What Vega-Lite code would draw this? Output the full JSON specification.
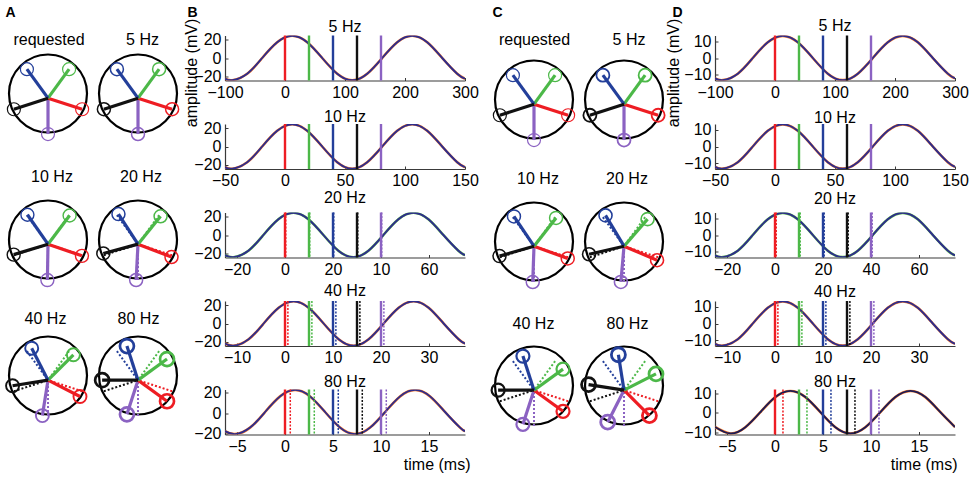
{
"$schema": "https://vega.github.io/schema/vega-lite/v6.json",
"padding": {"left": 0, "top": 4.5, "right": 0, "bottom": 0},
"config": {
 "view": {"stroke": null},
 "font": "Liberation Sans",
 "title": {"font": "Liberation Sans", "fontSize": 16, "fontWeight": "normal", "color": "#000", "baseline": "alphabetic", "anchor": "middle"},
 "axis": {"labelFont": "Liberation Sans", "labelFontSize": 16, "labelColor": "#000", "titleFont": "Liberation Sans", "titleFontSize": 16, "titleFontWeight": "normal", "titleColor": "#000", "domainColor": "#3a3a3a", "tickColor": "#3a3a3a", "tickSize": -3, "grid": false, "labelFlush": false, "labelOverlap": false, "domainWidth": 1.2, "tickCount": 10},
 "axisX": {"labelPadding": 6.5},
 "axisY": {"labelPadding": 7}
},
"datasets": {
 "ph": [
  {"p":"A0","k":"ring","x":0,"y":0},
  {"p":"A0","k":"s","col":"purple","x":0,"y":-1.04},{"p":"A0","k":"s","col":"red","x":0.875,"y":-0.404},{"p":"A0","k":"s","col":"green","x":0.541,"y":0.624},{"p":"A0","k":"s","col":"blue","x":-0.541,"y":0.624},{"p":"A0","k":"s","col":"black","x":-0.875,"y":-0.404},
  {"p":"A5","k":"ring","x":0,"y":0},
  {"p":"A5","k":"s","col":"purple","x":0,"y":-1.04},{"p":"A5","k":"s","col":"red","x":0.875,"y":-0.404},{"p":"A5","k":"s","col":"green","x":0.541,"y":0.624},{"p":"A5","k":"s","col":"blue","x":-0.541,"y":0.624},{"p":"A5","k":"s","col":"black","x":-0.875,"y":-0.404},
  {"p":"A10","k":"ring","x":0,"y":0},
  {"p":"A10","k":"d","col":"purple","x":0,"y":-1.04},{"p":"A10","k":"d","col":"red","x":0.875,"y":-0.404},{"p":"A10","k":"d","col":"green","x":0.541,"y":0.624},{"p":"A10","k":"d","col":"blue","x":-0.541,"y":0.624},{"p":"A10","k":"d","col":"black","x":-0.875,"y":-0.404},
  {"p":"A10","k":"s","col":"purple","x":-0.016,"y":-1.04},{"p":"A10","k":"s","col":"red","x":0.87,"y":-0.42},{"p":"A10","k":"s","col":"green","x":0.554,"y":0.615},{"p":"A10","k":"s","col":"blue","x":-0.528,"y":0.634},{"p":"A10","k":"s","col":"black","x":-0.88,"y":-0.389},
  {"p":"A20","k":"ring","x":0,"y":0},
  {"p":"A20","k":"d","col":"purple","x":0,"y":-1.04},{"p":"A20","k":"d","col":"red","x":0.875,"y":-0.404},{"p":"A20","k":"d","col":"green","x":0.541,"y":0.624},{"p":"A20","k":"d","col":"blue","x":-0.541,"y":0.624},{"p":"A20","k":"d","col":"black","x":-0.875,"y":-0.404},
  {"p":"A20","k":"s","col":"purple","x":-0.048,"y":-1.039},{"p":"A20","k":"s","col":"red","x":0.859,"y":-0.45},{"p":"A20","k":"s","col":"green","x":0.579,"y":0.595},{"p":"A20","k":"s","col":"blue","x":-0.501,"y":0.652},{"p":"A20","k":"s","col":"black","x":-0.889,"y":-0.358},
  {"p":"A40","k":"ring","x":0,"y":0},
  {"p":"A40","k":"d","col":"purple","x":0,"y":-1.04},{"p":"A40","k":"d","col":"red","x":0.875,"y":-0.404},{"p":"A40","k":"d","col":"green","x":0.541,"y":0.624},{"p":"A40","k":"d","col":"blue","x":-0.541,"y":0.624},{"p":"A40","k":"d","col":"black","x":-0.875,"y":-0.404},
  {"p":"A40","k":"s","col":"purple","x":-0.144,"y":-1.029},{"p":"A40","k":"s","col":"red","x":0.82,"y":-0.538},{"p":"A40","k":"s","col":"green","x":0.651,"y":0.531},{"p":"A40","k":"s","col":"blue","x":-0.418,"y":0.7},{"p":"A40","k":"s","col":"black","x":-0.909,"y":-0.264},
  {"p":"A80","k":"ring","x":0,"y":0},
  {"p":"A80","k":"d","col":"purple","x":0,"y":-1.04},{"p":"A80","k":"d","col":"red","x":0.875,"y":-0.404},{"p":"A80","k":"d","col":"green","x":0.541,"y":0.624},{"p":"A80","k":"d","col":"blue","x":-0.541,"y":0.624},{"p":"A80","k":"d","col":"black","x":-0.875,"y":-0.404},
  {"p":"A80","k":"s","col":"purple","x":-0.284,"y":-0.995},{"p":"A80","k":"s","col":"red","x":0.744,"y":-0.661},{"p":"A80","k":"s","col":"green","x":0.744,"y":0.421},{"p":"A80","k":"s","col":"blue","x":-0.284,"y":0.755},{"p":"A80","k":"s","col":"black","x":-0.92,"y":-0.12},
  {"p":"C0","k":"ring","x":0,"y":0},
  {"p":"C0","k":"s","col":"purple","x":0,"y":-1.04},{"p":"C0","k":"s","col":"red","x":0.875,"y":-0.404},{"p":"C0","k":"s","col":"green","x":0.541,"y":0.624},{"p":"C0","k":"s","col":"blue","x":-0.541,"y":0.624},{"p":"C0","k":"s","col":"black","x":-0.875,"y":-0.404},
  {"p":"C5","k":"ring","x":0,"y":0},
  {"p":"C5","k":"s","col":"purple","x":0,"y":-1.04},{"p":"C5","k":"s","col":"red","x":0.875,"y":-0.404},{"p":"C5","k":"s","col":"green","x":0.541,"y":0.624},{"p":"C5","k":"s","col":"blue","x":-0.541,"y":0.624},{"p":"C5","k":"s","col":"black","x":-0.875,"y":-0.404},
  {"p":"C10","k":"ring","x":0,"y":0},
  {"p":"C10","k":"d","col":"purple","x":0,"y":-1.04},{"p":"C10","k":"d","col":"red","x":0.875,"y":-0.404},{"p":"C10","k":"d","col":"green","x":0.541,"y":0.624},{"p":"C10","k":"d","col":"blue","x":-0.541,"y":0.624},{"p":"C10","k":"d","col":"black","x":-0.875,"y":-0.404},
  {"p":"C10","k":"s","col":"purple","x":-0.032,"y":-1.039},{"p":"C10","k":"s","col":"red","x":0.865,"y":-0.435},{"p":"C10","k":"s","col":"green","x":0.566,"y":0.605},{"p":"C10","k":"s","col":"blue","x":-0.514,"y":0.643},{"p":"C10","k":"s","col":"black","x":-0.884,"y":-0.374},
  {"p":"C20","k":"ring","x":0,"y":0},
  {"p":"C20","k":"d","col":"purple","x":0,"y":-1.04},{"p":"C20","k":"d","col":"red","x":0.875,"y":-0.404},{"p":"C20","k":"d","col":"green","x":0.541,"y":0.624},{"p":"C20","k":"d","col":"blue","x":-0.541,"y":0.624},{"p":"C20","k":"d","col":"black","x":-0.875,"y":-0.404},
  {"p":"C20","k":"s","col":"purple","x":-0.08,"y":-1.037},{"p":"C20","k":"s","col":"red","x":0.847,"y":-0.479},{"p":"C20","k":"s","col":"green","x":0.604,"y":0.574},{"p":"C20","k":"s","col":"blue","x":-0.474,"y":0.669},{"p":"C20","k":"s","col":"black","x":-0.896,"y":-0.327},
  {"p":"C40","k":"ring","x":0,"y":0},
  {"p":"C40","k":"d","col":"purple","x":0,"y":-1.04},{"p":"C40","k":"d","col":"red","x":0.875,"y":-0.404},{"p":"C40","k":"d","col":"green","x":0.541,"y":0.624},{"p":"C40","k":"d","col":"blue","x":-0.541,"y":0.624},{"p":"C40","k":"d","col":"black","x":-0.875,"y":-0.404},
  {"p":"C40","k":"s","col":"purple","x":-0.284,"y":-0.995},{"p":"C40","k":"s","col":"red","x":0.744,"y":-0.661},{"p":"C40","k":"s","col":"green","x":0.744,"y":0.421},{"p":"C40","k":"s","col":"blue","x":-0.284,"y":0.755},{"p":"C40","k":"s","col":"black","x":-0.92,"y":-0.12},
  {"p":"C80","k":"ring","x":0,"y":0},
  {"p":"C80","k":"d","col":"purple","x":0,"y":-1.04},{"p":"C80","k":"d","col":"red","x":0.875,"y":-0.404},{"p":"C80","k":"d","col":"green","x":0.541,"y":0.624},{"p":"C80","k":"d","col":"blue","x":-0.541,"y":0.624},{"p":"C80","k":"d","col":"black","x":-0.875,"y":-0.404},
  {"p":"C80","k":"s","col":"purple","x":-0.418,"y":-0.94},{"p":"C80","k":"s","col":"red","x":0.651,"y":-0.771},{"p":"C80","k":"s","col":"green","x":0.82,"y":0.298},{"p":"C80","k":"s","col":"blue","x":-0.144,"y":0.789},{"p":"C80","k":"s","col":"black","x":-0.909,"y":0.024}
 ],
 "curves": [
  {"c":"B5","t":-100,"v":-22.59},{"c":"B5","t":-88,"v":-24.3},{"c":"B5","t":-63,"v":-17.18},{"c":"B5","t":-38,"v":0},{"c":"B5","t":-13,"v":17.18},{"c":"B5","t":12,"v":24.3},{"c":"B5","t":37,"v":17.18},{"c":"B5","t":62,"v":0},{"c":"B5","t":87,"v":-17.18},{"c":"B5","t":112,"v":-24.3},{"c":"B5","t":137,"v":-17.18},{"c":"B5","t":162,"v":0},{"c":"B5","t":187,"v":17.18},{"c":"B5","t":212,"v":24.3},{"c":"B5","t":237,"v":17.18},{"c":"B5","t":262,"v":0},{"c":"B5","t":287,"v":-17.18},{"c":"B5","t":300,"v":-22.59},
  {"c":"B10","t":-50,"v":-22.59},{"c":"B10","t":-44,"v":-24.3},{"c":"B10","t":-31.5,"v":-17.18},{"c":"B10","t":-19,"v":0},{"c":"B10","t":-6.5,"v":17.18},{"c":"B10","t":6,"v":24.3},{"c":"B10","t":18.5,"v":17.18},{"c":"B10","t":31,"v":0},{"c":"B10","t":43.5,"v":-17.18},{"c":"B10","t":56,"v":-24.3},{"c":"B10","t":68.5,"v":-17.18},{"c":"B10","t":81,"v":0},{"c":"B10","t":93.5,"v":17.18},{"c":"B10","t":106,"v":24.3},{"c":"B10","t":118.5,"v":17.18},{"c":"B10","t":131,"v":0},{"c":"B10","t":143.5,"v":-17.18},{"c":"B10","t":150,"v":-22.59},
  {"c":"B20","t":-25,"v":-21.99},{"c":"B20","t":-21.5,"v":-24.3},{"c":"B20","t":-15.25,"v":-17.18},{"c":"B20","t":-9,"v":0},{"c":"B20","t":-2.75,"v":17.18},{"c":"B20","t":3.5,"v":24.3},{"c":"B20","t":9.75,"v":17.18},{"c":"B20","t":16,"v":0},{"c":"B20","t":22.25,"v":-17.18},{"c":"B20","t":28.5,"v":-24.3},{"c":"B20","t":34.75,"v":-17.18},{"c":"B20","t":41,"v":0},{"c":"B20","t":47.25,"v":17.18},{"c":"B20","t":53.5,"v":24.3},{"c":"B20","t":59.75,"v":17.18},{"c":"B20","t":66,"v":0},{"c":"B20","t":72.25,"v":-17.18},{"c":"B20","t":75,"v":-21.99},
  {"c":"B40","t":-12.5,"v":-21.86},{"c":"B40","t":-10.7,"v":-24.3},{"c":"B40","t":-7.575,"v":-17.18},{"c":"B40","t":-4.45,"v":0},{"c":"B40","t":-1.325,"v":17.18},{"c":"B40","t":1.8,"v":24.3},{"c":"B40","t":4.925,"v":17.18},{"c":"B40","t":8.05,"v":0},{"c":"B40","t":11.175,"v":-17.18},{"c":"B40","t":14.3,"v":-24.3},{"c":"B40","t":17.425,"v":-17.18},{"c":"B40","t":20.55,"v":0},{"c":"B40","t":23.675,"v":17.18},{"c":"B40","t":26.8,"v":24.3},{"c":"B40","t":29.925,"v":17.18},{"c":"B40","t":33.05,"v":0},{"c":"B40","t":36.175,"v":-17.18},{"c":"B40","t":37.5,"v":-21.86},
  {"c":"B80","t":-6.25,"v":-17.66},{"c":"B80","t":-5.2,"v":-20.6},{"c":"B80","t":-3.6375,"v":-14.27},{"c":"B80","t":-2.075,"v":1},{"c":"B80","t":-0.5125,"v":16.27},{"c":"B80","t":1.05,"v":22.6},{"c":"B80","t":2.6125,"v":16.27},{"c":"B80","t":4.175,"v":1},{"c":"B80","t":5.7375,"v":-14.27},{"c":"B80","t":7.3,"v":-20.6},{"c":"B80","t":8.8625,"v":-14.27},{"c":"B80","t":10.425,"v":1},{"c":"B80","t":11.9875,"v":16.27},{"c":"B80","t":13.55,"v":22.6},{"c":"B80","t":15.1125,"v":16.27},{"c":"B80","t":16.675,"v":1},{"c":"B80","t":18.2375,"v":-14.27},{"c":"B80","t":18.75,"v":-17.66},
  {"c":"D5","t":-100,"v":-12.11},{"c":"D5","t":-87,"v":-13.2},{"c":"D5","t":-62,"v":-9.33},{"c":"D5","t":-37,"v":0},{"c":"D5","t":-12,"v":9.33},{"c":"D5","t":13,"v":13.2},{"c":"D5","t":38,"v":9.33},{"c":"D5","t":63,"v":0},{"c":"D5","t":88,"v":-9.33},{"c":"D5","t":113,"v":-13.2},{"c":"D5","t":138,"v":-9.33},{"c":"D5","t":163,"v":0},{"c":"D5","t":188,"v":9.33},{"c":"D5","t":213,"v":13.2},{"c":"D5","t":238,"v":9.33},{"c":"D5","t":263,"v":0},{"c":"D5","t":288,"v":-9.33},{"c":"D5","t":300,"v":-12.11},
  {"c":"D10","t":-50,"v":-12.11},{"c":"D10","t":-43.5,"v":-13.2},{"c":"D10","t":-31,"v":-9.33},{"c":"D10","t":-18.5,"v":0},{"c":"D10","t":-6,"v":9.33},{"c":"D10","t":6.5,"v":13.2},{"c":"D10","t":19,"v":9.33},{"c":"D10","t":31.5,"v":0},{"c":"D10","t":44,"v":-9.33},{"c":"D10","t":56.5,"v":-13.2},{"c":"D10","t":69,"v":-9.33},{"c":"D10","t":81.5,"v":0},{"c":"D10","t":94,"v":9.33},{"c":"D10","t":106.5,"v":13.2},{"c":"D10","t":119,"v":9.33},{"c":"D10","t":131.5,"v":0},{"c":"D10","t":144,"v":-9.33},{"c":"D10","t":150,"v":-12.11},
  {"c":"D20","t":-25,"v":-12.11},{"c":"D20","t":-21.75,"v":-13.2},{"c":"D20","t":-15.5,"v":-9.33},{"c":"D20","t":-9.25,"v":0},{"c":"D20","t":-3,"v":9.33},{"c":"D20","t":3.25,"v":13.2},{"c":"D20","t":9.5,"v":9.33},{"c":"D20","t":15.75,"v":0},{"c":"D20","t":22,"v":-9.33},{"c":"D20","t":28.25,"v":-13.2},{"c":"D20","t":34.5,"v":-9.33},{"c":"D20","t":40.75,"v":0},{"c":"D20","t":47,"v":9.33},{"c":"D20","t":53.25,"v":13.2},{"c":"D20","t":59.5,"v":9.33},{"c":"D20","t":65.75,"v":0},{"c":"D20","t":72,"v":-9.33},{"c":"D20","t":75,"v":-12.11},
  {"c":"D40","t":-12.5,"v":-12.11},{"c":"D40","t":-10.875,"v":-13.2},{"c":"D40","t":-7.75,"v":-9.33},{"c":"D40","t":-4.625,"v":0},{"c":"D40","t":-1.5,"v":9.33},{"c":"D40","t":1.625,"v":13.2},{"c":"D40","t":4.75,"v":9.33},{"c":"D40","t":7.875,"v":0},{"c":"D40","t":11,"v":-9.33},{"c":"D40","t":14.125,"v":-13.2},{"c":"D40","t":17.25,"v":-9.33},{"c":"D40","t":20.375,"v":0},{"c":"D40","t":23.5,"v":9.33},{"c":"D40","t":26.625,"v":13.2},{"c":"D40","t":29.75,"v":9.33},{"c":"D40","t":32.875,"v":0},{"c":"D40","t":36,"v":-9.33},{"c":"D40","t":37.5,"v":-12.11},
  {"c":"D80","t":-6.25,"v":-7.16},{"c":"D80","t":-4.65,"v":-10.5},{"c":"D80","t":-3.0875,"v":-7.31},{"c":"D80","t":-1.525,"v":0.4},{"c":"D80","t":0.0375,"v":8.11},{"c":"D80","t":1.6,"v":11.3},{"c":"D80","t":3.1625,"v":8.11},{"c":"D80","t":4.725,"v":0.4},{"c":"D80","t":6.2875,"v":-7.31},{"c":"D80","t":7.85,"v":-10.5},{"c":"D80","t":9.4125,"v":-7.31},{"c":"D80","t":10.975,"v":0.4},{"c":"D80","t":12.5375,"v":8.11},{"c":"D80","t":14.1,"v":11.3},{"c":"D80","t":15.6625,"v":8.11},{"c":"D80","t":17.225,"v":0.4},{"c":"D80","t":18.75,"v":-7.16}
 ],
 "vl": [
  {"c":"B5","k":"s","col":"red","t":0},{"c":"B5","k":"s","col":"green","t":40},{"c":"B5","k":"s","col":"blue","t":80},{"c":"B5","k":"s","col":"black","t":120},{"c":"B5","k":"s","col":"purple","t":160},
  {"c":"B10","k":"s","col":"red","t":0},{"c":"B10","k":"s","col":"green","t":20},{"c":"B10","k":"s","col":"blue","t":40},{"c":"B10","k":"s","col":"black","t":60},{"c":"B10","k":"s","col":"purple","t":80},
  {"c":"B20","k":"s","col":"red","t":0},{"c":"B20","k":"s","col":"green","t":10},{"c":"B20","k":"s","col":"blue","t":20},{"c":"B20","k":"s","col":"black","t":30},{"c":"B20","k":"s","col":"purple","t":40},
  {"c":"B20","k":"d","col":"red","t":0.3},{"c":"B20","k":"d","col":"green","t":10.3},{"c":"B20","k":"d","col":"blue","t":20.3},{"c":"B20","k":"d","col":"black","t":30.3},{"c":"B20","k":"d","col":"purple","t":40.3},
  {"c":"B40","k":"s","col":"red","t":0},{"c":"B40","k":"s","col":"green","t":5},{"c":"B40","k":"s","col":"blue","t":10},{"c":"B40","k":"s","col":"black","t":15},{"c":"B40","k":"s","col":"purple","t":20},
  {"c":"B40","k":"d","col":"red","t":0.6},{"c":"B40","k":"d","col":"green","t":5.6},{"c":"B40","k":"d","col":"blue","t":10.6},{"c":"B40","k":"d","col":"black","t":15.6},{"c":"B40","k":"d","col":"purple","t":20.6},
  {"c":"B80","k":"s","col":"red","t":0},{"c":"B80","k":"s","col":"green","t":2.5},{"c":"B80","k":"s","col":"blue","t":5},{"c":"B80","k":"s","col":"black","t":7.5},{"c":"B80","k":"s","col":"purple","t":10},
  {"c":"B80","k":"d","col":"red","t":0.55},{"c":"B80","k":"d","col":"green","t":3.05},{"c":"B80","k":"d","col":"blue","t":5.55},{"c":"B80","k":"d","col":"black","t":8.05},{"c":"B80","k":"d","col":"purple","t":10.55},
  {"c":"D5","k":"s","col":"red","t":0},{"c":"D5","k":"s","col":"green","t":40},{"c":"D5","k":"s","col":"blue","t":80},{"c":"D5","k":"s","col":"black","t":120},{"c":"D5","k":"s","col":"purple","t":160},
  {"c":"D10","k":"s","col":"red","t":0},{"c":"D10","k":"s","col":"green","t":20},{"c":"D10","k":"s","col":"blue","t":40},{"c":"D10","k":"s","col":"black","t":60},{"c":"D10","k":"s","col":"purple","t":80},
  {"c":"D20","k":"s","col":"red","t":0},{"c":"D20","k":"s","col":"green","t":10},{"c":"D20","k":"s","col":"blue","t":20},{"c":"D20","k":"s","col":"black","t":30},{"c":"D20","k":"s","col":"purple","t":40},
  {"c":"D20","k":"d","col":"red","t":0.5},{"c":"D20","k":"d","col":"green","t":10.5},{"c":"D20","k":"d","col":"blue","t":20.5},{"c":"D20","k":"d","col":"black","t":30.5},{"c":"D20","k":"d","col":"purple","t":40.5},
  {"c":"D40","k":"s","col":"red","t":0},{"c":"D40","k":"s","col":"green","t":5},{"c":"D40","k":"s","col":"blue","t":10},{"c":"D40","k":"s","col":"black","t":15},{"c":"D40","k":"s","col":"purple","t":20},
  {"c":"D40","k":"d","col":"red","t":0.6},{"c":"D40","k":"d","col":"green","t":5.6},{"c":"D40","k":"d","col":"blue","t":10.6},{"c":"D40","k":"d","col":"black","t":15.6},{"c":"D40","k":"d","col":"purple","t":20.6},
  {"c":"D80","k":"s","col":"red","t":0},{"c":"D80","k":"s","col":"green","t":2.5},{"c":"D80","k":"s","col":"blue","t":5},{"c":"D80","k":"s","col":"black","t":7.5},{"c":"D80","k":"s","col":"purple","t":10},
  {"c":"D80","k":"d","col":"red","t":0.83},{"c":"D80","k":"d","col":"green","t":3.33},{"c":"D80","k":"d","col":"blue","t":5.83},{"c":"D80","k":"d","col":"black","t":8.33},{"c":"D80","k":"d","col":"purple","t":10.83}
 ]
},
"columns": 6,
"align": "none",
"bounds": "flush",
"spacing": {"row": 43.5, "column": 0},
"concat": [
 {"width":90,"height":45,"data":{"name":"ph"},"transform":[{"filter":"datum.p == 'A0'"}],"encoding":{"x":{"field":"x","type":"quantitative","scale":{"domain":[-1.231,1.077],"nice":false,"zero":false},"axis":{"orient":"top","domain":false,"ticks":false,"labels":false,"title":"requested","titleX":48.5,"titleY":9,"titleAlign":"center","titleBaseline":"alphabetic","titleAngle":0}},"y":{"field":"y","type":"quantitative","scale":{"domain":[0.333,1.487],"nice":false,"zero":false},"axis":{"orient":"left","domain":false,"ticks":false,"labels":false,"title":"A","titleX":5,"titleY":-19.5,"titleAngle":0,"titleAlign":"left","titleBaseline":"alphabetic","titleFontWeight":"bold","titleFontSize":14}},"color":{"field":"col","type":"nominal","scale":{"domain":["red","green","blue","black","purple"],"range":["#ee1d23","#4cb848","#233f9a","#111111","#8b62c2"]},"legend":null}},"layer":[{"transform":[{"filter":"datum.k == 'ring'"}],"mark":{"type":"point","shape":"circle","size":6084,"filled":false,"strokeWidth":2.2,"opacity":1},"encoding":{"color":{"value":"#000"}}},{"transform":[{"filter":"datum.k == 'd'"}],"mark":{"type":"rule","strokeWidth":2,"strokeDash":[2,2]},"encoding":{"x2":{"datum":0},"y2":{"datum":-0.12}}},{"transform":[{"filter":"datum.k == 's'"}],"mark":{"type":"rule","strokeWidth":3.2},"encoding":{"x2":{"datum":0},"y2":{"datum":-0.12}}},{"transform":[{"filter":"datum.k == 's'"}],"mark":{"type":"point","shape":"circle","size":169,"filled":false,"strokeWidth":1.2,"opacity":1}}]},
 {"width":135,"height":45,"data":{"name":"ph"},"transform":[{"filter":"datum.p == 'A5'"}],"encoding":{"x":{"field":"x","type":"quantitative","scale":{"domain":[-1.231,2.231],"nice":false,"zero":false},"axis":{"orient":"top","domain":false,"ticks":false,"labels":false,"title":"5 Hz","titleX":52,"titleY":9,"titleAlign":"center","titleBaseline":"alphabetic","titleAngle":0}},"y":{"field":"y","type":"quantitative","scale":{"domain":[0.333,1.487],"nice":false,"zero":false},"axis":{"orient":"left","domain":false,"ticks":false,"labels":false,"title":"B","titleX":97,"titleY":-19.5,"titleAngle":0,"titleAlign":"left","titleBaseline":"alphabetic","titleFontWeight":"bold","titleFontSize":14}},"color":{"field":"col","type":"nominal","scale":{"domain":["red","green","blue","black","purple"],"range":["#ee1d23","#4cb848","#233f9a","#111111","#8b62c2"]},"legend":null}},"layer":[{"transform":[{"filter":"datum.k == 'ring'"}],"mark":{"type":"point","shape":"circle","size":6084,"filled":false,"strokeWidth":2.2,"opacity":1},"encoding":{"color":{"value":"#000"}}},{"transform":[{"filter":"datum.k == 'd'"}],"mark":{"type":"rule","strokeWidth":2,"strokeDash":[2,2]},"encoding":{"x2":{"datum":0},"y2":{"datum":-0.12}}},{"transform":[{"filter":"datum.k == 's'"}],"mark":{"type":"rule","strokeWidth":3.2},"encoding":{"x2":{"datum":0},"y2":{"datum":-0.12}}},{"transform":[{"filter":"datum.k == 's'"}],"mark":{"type":"point","shape":"circle","size":169,"filled":false,"strokeWidth":1.5,"opacity":1}}]},
 {"width":240,"height":45,"title":{"text":"5 Hz","offset":-16.8},
  "encoding":{"x":{"field":"t","type":"quantitative","scale":{"domain":[-100,300],"nice":false,"zero":false},"axis":{"values":[-100,0,100,200,300],"tickCount":10,"title":null,"labelOverlap":false}}},
  "layer":[
   {"data":{"name":"curves"},"transform":[{"filter":"datum.c == 'B5'"}],"mark":{"type":"line","interpolate":"natural","color":"#f4782a","strokeWidth":2.6,"clip":true},"encoding":{"y":{"field":"v","type":"quantitative","scale":{"domain":[-24.6,24.6],"nice":false,"zero":false},"axis":{"values":[-20,0,20],"tickCount":10,"labelOverlap":false,"title":"amplitude (mV)","titleAngle":270,"titleX":-34,"titleY":37,"titleAlign":"center","titleBaseline":"middle"}}}},
   {"data":{"name":"curves"},"transform":[{"filter":"datum.c == 'B5'"}],"mark":{"type":"line","interpolate":"natural","color":"#2e2d8c","strokeWidth":1.9,"clip":true},"encoding":{"y":{"field":"v","type":"quantitative"}}},
   {"data":{"name":"vl"},"transform":[{"filter":"datum.c == 'B5' && datum.k == 's'"}],"mark":{"type":"rule","strokeWidth":2.4},"encoding":{"color":{"field":"col","type":"nominal","scale":{"domain":["red","green","blue","black","purple"],"range":["#ee1d23","#4cb848","#233f9a","#111111","#8b62c2"]},"legend":null}}}
  ]},
 {"width":111,"height":45,"data":{"name":"ph"},"transform":[{"filter":"datum.p == 'C0'"}],"encoding":{"x":{"field":"x","type":"quantitative","scale":{"domain":[-1.769,1.077],"nice":false,"zero":false},"axis":{"orient":"top","domain":false,"ticks":false,"labels":false,"title":"requested","titleX":69,"titleY":9,"titleAlign":"center","titleBaseline":"alphabetic","titleAngle":0}},"y":{"field":"y","type":"quantitative","scale":{"domain":[0.487,1.641],"nice":false,"zero":false},"axis":{"orient":"left","domain":false,"ticks":false,"labels":false,"title":"C","titleX":27,"titleY":-19.5,"titleAngle":0,"titleAlign":"left","titleBaseline":"alphabetic","titleFontWeight":"bold","titleFontSize":14}},"color":{"field":"col","type":"nominal","scale":{"domain":["red","green","blue","black","purple"],"range":["#ee1d23","#4cb848","#233f9a","#111111","#8b62c2"]},"legend":null}},"layer":[{"transform":[{"filter":"datum.k == 'ring'"}],"mark":{"type":"point","shape":"circle","size":6084,"filled":false,"strokeWidth":2.2,"opacity":1},"encoding":{"color":{"value":"#000"}}},{"transform":[{"filter":"datum.k == 'd'"}],"mark":{"type":"rule","strokeWidth":2,"strokeDash":[2,2]},"encoding":{"x2":{"datum":0},"y2":{"datum":-0.12}}},{"transform":[{"filter":"datum.k == 's'"}],"mark":{"type":"rule","strokeWidth":3.2},"encoding":{"x2":{"datum":0},"y2":{"datum":-0.12}}},{"transform":[{"filter":"datum.k == 's'"}],"mark":{"type":"point","shape":"circle","size":169,"filled":false,"strokeWidth":1.2,"opacity":1}}]},
 {"width":139,"height":45,"data":{"name":"ph"},"transform":[{"filter":"datum.p == 'C5'"}],"encoding":{"x":{"field":"x","type":"quantitative","scale":{"domain":[-1.231,2.333],"nice":false,"zero":false},"axis":{"orient":"top","domain":false,"ticks":false,"labels":false,"title":"5 Hz","titleX":52.5,"titleY":9,"titleAlign":"center","titleBaseline":"alphabetic","titleAngle":0}},"y":{"field":"y","type":"quantitative","scale":{"domain":[0.487,1.641],"nice":false,"zero":false},"axis":{"orient":"left","domain":false,"ticks":false,"labels":false,"title":"D","titleX":96,"titleY":-19.5,"titleAngle":0,"titleAlign":"left","titleBaseline":"alphabetic","titleFontWeight":"bold","titleFontSize":14}},"color":{"field":"col","type":"nominal","scale":{"domain":["red","green","blue","black","purple"],"range":["#ee1d23","#4cb848","#233f9a","#111111","#8b62c2"]},"legend":null}},"layer":[{"transform":[{"filter":"datum.k == 'ring'"}],"mark":{"type":"point","shape":"circle","size":6084,"filled":false,"strokeWidth":2.2,"opacity":1},"encoding":{"color":{"value":"#000"}}},{"transform":[{"filter":"datum.k == 'd'"}],"mark":{"type":"rule","strokeWidth":2,"strokeDash":[2,2]},"encoding":{"x2":{"datum":0},"y2":{"datum":-0.12}}},{"transform":[{"filter":"datum.k == 's'"}],"mark":{"type":"rule","strokeWidth":3.2},"encoding":{"x2":{"datum":0},"y2":{"datum":-0.12}}},{"transform":[{"filter":"datum.k == 's'"}],"mark":{"type":"point","shape":"circle","size":169,"filled":false,"strokeWidth":1.8,"opacity":1}}]},
 {"width":240,"height":45,"title":{"text":"5 Hz","offset":-15.3},
  "encoding":{"x":{"field":"t","type":"quantitative","scale":{"domain":[-100,300],"nice":false,"zero":false},"axis":{"values":[-100,0,100,200,300],"tickCount":10,"title":null,"labelOverlap":false}}},
  "layer":[
   {"data":{"name":"curves"},"transform":[{"filter":"datum.c == 'D5'"}],"mark":{"type":"line","interpolate":"natural","color":"#f4782a","strokeWidth":2.6,"clip":true},"encoding":{"y":{"field":"v","type":"quantitative","scale":{"domain":[-13.4,13.4],"nice":false,"zero":false},"axis":{"values":[-10,0,10],"tickCount":10,"labelOverlap":false,"title":"amplitude (mV)","titleAngle":270,"titleX":-42,"titleY":37,"titleAlign":"center","titleBaseline":"middle"}}}},
   {"data":{"name":"curves"},"transform":[{"filter":"datum.c == 'D5'"}],"mark":{"type":"line","interpolate":"natural","color":"#2e2d8c","strokeWidth":1.9,"clip":true},"encoding":{"y":{"field":"v","type":"quantitative"}}},
   {"data":{"name":"vl"},"transform":[{"filter":"datum.c == 'D5' && datum.k == 's'"}],"mark":{"type":"rule","strokeWidth":2.4},"encoding":{"color":{"field":"col","type":"nominal","scale":{"domain":["red","green","blue","black","purple"],"range":["#ee1d23","#4cb848","#233f9a","#111111","#8b62c2"]},"legend":null}}}
  ]},

 {"width":90,"height":1,"data":{"values":[]},"mark":"point"},
 {"width":135,"height":1,"data":{"values":[]},"mark":"point"},
 {"width":240,"height":45,"title":{"text":"10 Hz","offset":-5},
  "encoding":{"x":{"field":"t","type":"quantitative","scale":{"domain":[-50,150],"nice":false,"zero":false},"axis":{"values":[-50,0,50,100,150],"tickCount":10,"title":null,"labelOverlap":false}}},
  "layer":[
   {"data":{"name":"curves"},"transform":[{"filter":"datum.c == 'B10'"}],"mark":{"type":"line","interpolate":"natural","color":"#f4782a","strokeWidth":2.6,"clip":true},"encoding":{"y":{"field":"v","type":"quantitative","scale":{"domain":[-24.6,24.6],"nice":false,"zero":false},"axis":{"values":[-20,0,20],"tickCount":10,"labelOverlap":false,"title":null}}}},
   {"data":{"name":"curves"},"transform":[{"filter":"datum.c == 'B10'"}],"mark":{"type":"line","interpolate":"natural","color":"#2e2d8c","strokeWidth":1.9,"clip":true},"encoding":{"y":{"field":"v","type":"quantitative"}}},
   {"data":{"name":"vl"},"transform":[{"filter":"datum.c == 'B10' && datum.k == 's'"}],"mark":{"type":"rule","strokeWidth":2.4},"encoding":{"color":{"field":"col","type":"nominal","scale":{"domain":["red","green","blue","black","purple"],"range":["#ee1d23","#4cb848","#233f9a","#111111","#8b62c2"]},"legend":null}}}
  ]},
 {"width":111,"height":1,"data":{"values":[]},"mark":"point"},
 {"width":139,"height":1,"data":{"values":[]},"mark":"point"},
 {"width":240,"height":45,"title":{"text":"10 Hz","offset":-4.3},
  "encoding":{"x":{"field":"t","type":"quantitative","scale":{"domain":[-50,150],"nice":false,"zero":false},"axis":{"values":[-50,0,50,100,150],"tickCount":10,"title":null,"labelOverlap":false}}},
  "layer":[
   {"data":{"name":"curves"},"transform":[{"filter":"datum.c == 'D10'"}],"mark":{"type":"line","interpolate":"natural","color":"#f4782a","strokeWidth":2.6,"clip":true},"encoding":{"y":{"field":"v","type":"quantitative","scale":{"domain":[-13.4,13.4],"nice":false,"zero":false},"axis":{"values":[-10,0,10],"tickCount":10,"labelOverlap":false,"title":null}}}},
   {"data":{"name":"curves"},"transform":[{"filter":"datum.c == 'D10'"}],"mark":{"type":"line","interpolate":"natural","color":"#2e2d8c","strokeWidth":1.9,"clip":true},"encoding":{"y":{"field":"v","type":"quantitative"}}},
   {"data":{"name":"vl"},"transform":[{"filter":"datum.c == 'D10' && datum.k == 's'"}],"mark":{"type":"rule","strokeWidth":2.4},"encoding":{"color":{"field":"col","type":"nominal","scale":{"domain":["red","green","blue","black","purple"],"range":["#ee1d23","#4cb848","#233f9a","#111111","#8b62c2"]},"legend":null}}}
  ]},

 {"width":90,"height":45,"data":{"name":"ph"},"transform":[{"filter":"datum.p == 'A10'"}],"encoding":{"x":{"field":"x","type":"quantitative","scale":{"domain":[-1.231,1.077],"nice":false,"zero":false},"axis":{"orient":"top","domain":false,"ticks":false,"labels":false,"title":"10 Hz","titleX":51.5,"titleY":-31,"titleAlign":"center","titleBaseline":"alphabetic","titleAngle":0}},"y":{"field":"y","type":"quantitative","scale":{"domain":[-0.462,0.692],"nice":false,"zero":false},"axis":null},"color":{"field":"col","type":"nominal","scale":{"domain":["red","green","blue","black","purple"],"range":["#ee1d23","#4cb848","#233f9a","#111111","#8b62c2"]},"legend":null}},"layer":[{"transform":[{"filter":"datum.k == 'ring'"}],"mark":{"type":"point","shape":"circle","size":6084,"filled":false,"strokeWidth":2.2,"opacity":1},"encoding":{"color":{"value":"#000"}}},{"transform":[{"filter":"datum.k == 'd'"}],"mark":{"type":"rule","strokeWidth":2,"strokeDash":[2,2]},"encoding":{"x2":{"datum":0},"y2":{"datum":-0.12}}},{"transform":[{"filter":"datum.k == 's'"}],"mark":{"type":"rule","strokeWidth":3.2},"encoding":{"x2":{"datum":0},"y2":{"datum":-0.12}}},{"transform":[{"filter":"datum.k == 's'"}],"mark":{"type":"point","shape":"circle","size":169,"filled":false,"strokeWidth":1.4,"opacity":1}}]},
 {"width":135,"height":45,"data":{"name":"ph"},"transform":[{"filter":"datum.p == 'A20'"}],"encoding":{"x":{"field":"x","type":"quantitative","scale":{"domain":[-1.231,2.231],"nice":false,"zero":false},"axis":{"orient":"top","domain":false,"ticks":false,"labels":false,"title":"20 Hz","titleX":50.5,"titleY":-31,"titleAlign":"center","titleBaseline":"alphabetic","titleAngle":0}},"y":{"field":"y","type":"quantitative","scale":{"domain":[-0.462,0.692],"nice":false,"zero":false},"axis":null},"color":{"field":"col","type":"nominal","scale":{"domain":["red","green","blue","black","purple"],"range":["#ee1d23","#4cb848","#233f9a","#111111","#8b62c2"]},"legend":null}},"layer":[{"transform":[{"filter":"datum.k == 'ring'"}],"mark":{"type":"point","shape":"circle","size":6084,"filled":false,"strokeWidth":2.2,"opacity":1},"encoding":{"color":{"value":"#000"}}},{"transform":[{"filter":"datum.k == 'd'"}],"mark":{"type":"rule","strokeWidth":2,"strokeDash":[2,2]},"encoding":{"x2":{"datum":0},"y2":{"datum":-0.12}}},{"transform":[{"filter":"datum.k == 's'"}],"mark":{"type":"rule","strokeWidth":3.2},"encoding":{"x2":{"datum":0},"y2":{"datum":-0.12}}},{"transform":[{"filter":"datum.k == 's'"}],"mark":{"type":"point","shape":"circle","size":169,"filled":false,"strokeWidth":1.5,"opacity":1}}]},
 {"width":240,"height":45,"title":{"text":"20 Hz","offset":2.5},
  "encoding":{"x":{"field":"t","type":"quantitative","scale":{"domain":[-25,75],"nice":false,"zero":false},"axis":{"values":[-20,0,20,40,60],"tickCount":10,"title":null,"labelOverlap":false,"labelExpr":"datum.value == 40 ? '10' : datum.label"}}},
  "layer":[
   {"data":{"name":"curves"},"transform":[{"filter":"datum.c == 'B20'"}],"mark":{"type":"line","interpolate":"natural","color":"#5cb84a","strokeWidth":2.6,"clip":true},"encoding":{"y":{"field":"v","type":"quantitative","scale":{"domain":[-24.6,24.6],"nice":false,"zero":false},"axis":{"values":[-20,0,20],"tickCount":10,"labelOverlap":false,"title":null}}}},
   {"data":{"name":"curves"},"transform":[{"filter":"datum.c == 'B20'"}],"mark":{"type":"line","interpolate":"natural","color":"#2e2d8c","strokeWidth":1.9,"clip":true},"encoding":{"y":{"field":"v","type":"quantitative"}}},
   {"data":{"name":"vl"},"transform":[{"filter":"datum.c == 'B20' && datum.k == 'd'"}],"mark":{"type":"rule","strokeWidth":1.5,"strokeDash":[2,1.5]},"encoding":{"color":{"field":"col","type":"nominal","scale":{"domain":["red","green","blue","black","purple"],"range":["#ee1d23","#4cb848","#233f9a","#111111","#8b62c2"]},"legend":null}}},
   {"data":{"name":"vl"},"transform":[{"filter":"datum.c == 'B20' && datum.k == 's'"}],"mark":{"type":"rule","strokeWidth":2.4},"encoding":{"color":{"field":"col","type":"nominal","scale":{"domain":["red","green","blue","black","purple"],"range":["#ee1d23","#4cb848","#233f9a","#111111","#8b62c2"]},"legend":null}}}
  ]},
 {"width":111,"height":45,"data":{"name":"ph"},"transform":[{"filter":"datum.p == 'C10'"}],"encoding":{"x":{"field":"x","type":"quantitative","scale":{"domain":[-1.769,1.077],"nice":false,"zero":false},"axis":{"orient":"top","domain":false,"ticks":false,"labels":false,"title":"10 Hz","titleX":72.5,"titleY":-29,"titleAlign":"center","titleBaseline":"alphabetic","titleAngle":0}},"y":{"field":"y","type":"quantitative","scale":{"domain":[-0.41,0.744],"nice":false,"zero":false},"axis":null},"color":{"field":"col","type":"nominal","scale":{"domain":["red","green","blue","black","purple"],"range":["#ee1d23","#4cb848","#233f9a","#111111","#8b62c2"]},"legend":null}},"layer":[{"transform":[{"filter":"datum.k == 'ring'"}],"mark":{"type":"point","shape":"circle","size":6084,"filled":false,"strokeWidth":2.2,"opacity":1},"encoding":{"color":{"value":"#000"}}},{"transform":[{"filter":"datum.k == 'd'"}],"mark":{"type":"rule","strokeWidth":2,"strokeDash":[2,2]},"encoding":{"x2":{"datum":0},"y2":{"datum":-0.12}}},{"transform":[{"filter":"datum.k == 's'"}],"mark":{"type":"rule","strokeWidth":3.2},"encoding":{"x2":{"datum":0},"y2":{"datum":-0.12}}},{"transform":[{"filter":"datum.k == 's'"}],"mark":{"type":"point","shape":"circle","size":169,"filled":false,"strokeWidth":1.5,"opacity":1}}]},
 {"width":139,"height":45,"data":{"name":"ph"},"transform":[{"filter":"datum.p == 'C20'"}],"encoding":{"x":{"field":"x","type":"quantitative","scale":{"domain":[-1.231,2.333],"nice":false,"zero":false},"axis":{"orient":"top","domain":false,"ticks":false,"labels":false,"title":"20 Hz","titleX":50.5,"titleY":-29,"titleAlign":"center","titleBaseline":"alphabetic","titleAngle":0}},"y":{"field":"y","type":"quantitative","scale":{"domain":[-0.41,0.744],"nice":false,"zero":false},"axis":null},"color":{"field":"col","type":"nominal","scale":{"domain":["red","green","blue","black","purple"],"range":["#ee1d23","#4cb848","#233f9a","#111111","#8b62c2"]},"legend":null}},"layer":[{"transform":[{"filter":"datum.k == 'ring'"}],"mark":{"type":"point","shape":"circle","size":6084,"filled":false,"strokeWidth":2.2,"opacity":1},"encoding":{"color":{"value":"#000"}}},{"transform":[{"filter":"datum.k == 'd'"}],"mark":{"type":"rule","strokeWidth":2,"strokeDash":[2,2]},"encoding":{"x2":{"datum":0},"y2":{"datum":-0.12}}},{"transform":[{"filter":"datum.k == 's'"}],"mark":{"type":"rule","strokeWidth":3.2},"encoding":{"x2":{"datum":0},"y2":{"datum":-0.12}}},{"transform":[{"filter":"datum.k == 's'"}],"mark":{"type":"point","shape":"circle","size":169,"filled":false,"strokeWidth":1.6,"opacity":1}}]},
 {"width":240,"height":45,"title":{"text":"20 Hz","offset":3.2},
  "encoding":{"x":{"field":"t","type":"quantitative","scale":{"domain":[-25,75],"nice":false,"zero":false},"axis":{"values":[-20,0,20,40,60],"tickCount":10,"title":null,"labelOverlap":false}}},
  "layer":[
   {"data":{"name":"curves"},"transform":[{"filter":"datum.c == 'D20'"}],"mark":{"type":"line","interpolate":"natural","color":"#5cb84a","strokeWidth":2.6,"clip":true},"encoding":{"y":{"field":"v","type":"quantitative","scale":{"domain":[-13.4,13.4],"nice":false,"zero":false},"axis":{"values":[-10,0,10],"tickCount":10,"labelOverlap":false,"title":null}}}},
   {"data":{"name":"curves"},"transform":[{"filter":"datum.c == 'D20'"}],"mark":{"type":"line","interpolate":"natural","color":"#2e2d8c","strokeWidth":1.9,"clip":true},"encoding":{"y":{"field":"v","type":"quantitative"}}},
   {"data":{"name":"vl"},"transform":[{"filter":"datum.c == 'D20' && datum.k == 'd'"}],"mark":{"type":"rule","strokeWidth":1.5,"strokeDash":[2,1.5]},"encoding":{"color":{"field":"col","type":"nominal","scale":{"domain":["red","green","blue","black","purple"],"range":["#ee1d23","#4cb848","#233f9a","#111111","#8b62c2"]},"legend":null}}},
   {"data":{"name":"vl"},"transform":[{"filter":"datum.c == 'D20' && datum.k == 's'"}],"mark":{"type":"rule","strokeWidth":2.4},"encoding":{"color":{"field":"col","type":"nominal","scale":{"domain":["red","green","blue","black","purple"],"range":["#ee1d23","#4cb848","#233f9a","#111111","#8b62c2"]},"legend":null}}}
  ]},

 {"width":90,"height":45,"data":{"name":"ph"},"transform":[{"filter":"datum.p == 'A40'"}],"encoding":{"x":{"field":"x","type":"quantitative","scale":{"domain":[-1.231,1.077],"nice":false,"zero":false},"axis":{"orient":"top","domain":false,"ticks":false,"labels":false,"title":"40 Hz","titleX":45,"titleY":22.5,"titleAlign":"center","titleBaseline":"alphabetic","titleAngle":0}},"y":{"field":"y","type":"quantitative","scale":{"domain":[0.756,1.91],"nice":false,"zero":false},"axis":null},"color":{"field":"col","type":"nominal","scale":{"domain":["red","green","blue","black","purple"],"range":["#ee1d23","#4cb848","#233f9a","#111111","#8b62c2"]},"legend":null}},"layer":[{"transform":[{"filter":"datum.k == 'ring'"}],"mark":{"type":"point","shape":"circle","size":6084,"filled":false,"strokeWidth":2.2,"opacity":1},"encoding":{"color":{"value":"#000"}}},{"transform":[{"filter":"datum.k == 'd'"}],"mark":{"type":"rule","strokeWidth":2,"strokeDash":[2,2]},"encoding":{"x2":{"datum":0},"y2":{"datum":-0.12}}},{"transform":[{"filter":"datum.k == 's'"}],"mark":{"type":"rule","strokeWidth":3.2},"encoding":{"x2":{"datum":0},"y2":{"datum":-0.12}}},{"transform":[{"filter":"datum.k == 's'"}],"mark":{"type":"point","shape":"circle","size":169,"filled":false,"strokeWidth":1.9,"opacity":1}}]},
 {"width":135,"height":45,"data":{"name":"ph"},"transform":[{"filter":"datum.p == 'A80'"}],"encoding":{"x":{"field":"x","type":"quantitative","scale":{"domain":[-1.231,2.231],"nice":false,"zero":false},"axis":{"orient":"top","domain":false,"ticks":false,"labels":false,"title":"80 Hz","titleX":48,"titleY":22.5,"titleAlign":"center","titleBaseline":"alphabetic","titleAngle":0}},"y":{"field":"y","type":"quantitative","scale":{"domain":[0.756,1.91],"nice":false,"zero":false},"axis":null},"color":{"field":"col","type":"nominal","scale":{"domain":["red","green","blue","black","purple"],"range":["#ee1d23","#4cb848","#233f9a","#111111","#8b62c2"]},"legend":null}},"layer":[{"transform":[{"filter":"datum.k == 'ring'"}],"mark":{"type":"point","shape":"circle","size":6084,"filled":false,"strokeWidth":2.2,"opacity":1},"encoding":{"color":{"value":"#000"}}},{"transform":[{"filter":"datum.k == 'd'"}],"mark":{"type":"rule","strokeWidth":2,"strokeDash":[2,2]},"encoding":{"x2":{"datum":0},"y2":{"datum":-0.12}}},{"transform":[{"filter":"datum.k == 's'"}],"mark":{"type":"rule","strokeWidth":3.2},"encoding":{"x2":{"datum":0},"y2":{"datum":-0.12}}},{"transform":[{"filter":"datum.k == 's'"}],"mark":{"type":"point","shape":"circle","size":196,"filled":false,"strokeWidth":2.7,"opacity":1}}]},
 {"width":240,"height":45,"title":{"text":"40 Hz","offset":-2},
  "encoding":{"x":{"field":"t","type":"quantitative","scale":{"domain":[-12.5,37.5],"nice":false,"zero":false},"axis":{"values":[-10,0,10,20,30],"tickCount":10,"title":null,"labelOverlap":false}}},
  "layer":[
   {"data":{"name":"curves"},"transform":[{"filter":"datum.c == 'B40'"}],"mark":{"type":"line","interpolate":"natural","color":"#f4782a","strokeWidth":2.6,"clip":true},"encoding":{"y":{"field":"v","type":"quantitative","scale":{"domain":[-24.6,24.6],"nice":false,"zero":false},"axis":{"values":[-20,0,20],"tickCount":10,"labelOverlap":false,"title":null}}}},
   {"data":{"name":"curves"},"transform":[{"filter":"datum.c == 'B40'"}],"mark":{"type":"line","interpolate":"natural","color":"#2e2d8c","strokeWidth":1.9,"clip":true},"encoding":{"y":{"field":"v","type":"quantitative"}}},
   {"data":{"name":"vl"},"transform":[{"filter":"datum.c == 'B40' && datum.k == 'd'"}],"mark":{"type":"rule","strokeWidth":1.5,"strokeDash":[2,1.5]},"encoding":{"color":{"field":"col","type":"nominal","scale":{"domain":["red","green","blue","black","purple"],"range":["#ee1d23","#4cb848","#233f9a","#111111","#8b62c2"]},"legend":null}}},
   {"data":{"name":"vl"},"transform":[{"filter":"datum.c == 'B40' && datum.k == 's'"}],"mark":{"type":"rule","strokeWidth":2.4},"encoding":{"color":{"field":"col","type":"nominal","scale":{"domain":["red","green","blue","black","purple"],"range":["#ee1d23","#4cb848","#233f9a","#111111","#8b62c2"]},"legend":null}}}
  ]},
 {"width":111,"height":45,"data":{"name":"ph"},"transform":[{"filter":"datum.p == 'C40'"}],"encoding":{"x":{"field":"x","type":"quantitative","scale":{"domain":[-1.769,1.077],"nice":false,"zero":false},"axis":{"orient":"top","domain":false,"ticks":false,"labels":false,"title":"40 Hz","titleX":68,"titleY":27.5,"titleAlign":"center","titleBaseline":"alphabetic","titleAngle":0}},"y":{"field":"y","type":"quantitative","scale":{"domain":[1.013,2.167],"nice":false,"zero":false},"axis":null},"color":{"field":"col","type":"nominal","scale":{"domain":["red","green","blue","black","purple"],"range":["#ee1d23","#4cb848","#233f9a","#111111","#8b62c2"]},"legend":null}},"layer":[{"transform":[{"filter":"datum.k == 'ring'"}],"mark":{"type":"point","shape":"circle","size":6084,"filled":false,"strokeWidth":2.2,"opacity":1},"encoding":{"color":{"value":"#000"}}},{"transform":[{"filter":"datum.k == 'd'"}],"mark":{"type":"rule","strokeWidth":2,"strokeDash":[2,2]},"encoding":{"x2":{"datum":0},"y2":{"datum":-0.12}}},{"transform":[{"filter":"datum.k == 's'"}],"mark":{"type":"rule","strokeWidth":3.2},"encoding":{"x2":{"datum":0},"y2":{"datum":-0.12}}},{"transform":[{"filter":"datum.k == 's'"}],"mark":{"type":"point","shape":"circle","size":169,"filled":false,"strokeWidth":2.2,"opacity":1}}]},
 {"width":139,"height":45,"data":{"name":"ph"},"transform":[{"filter":"datum.p == 'C80'"}],"encoding":{"x":{"field":"x","type":"quantitative","scale":{"domain":[-1.231,2.333],"nice":false,"zero":false},"axis":{"orient":"top","domain":false,"ticks":false,"labels":false,"title":"80 Hz","titleX":51,"titleY":27.5,"titleAlign":"center","titleBaseline":"alphabetic","titleAngle":0}},"y":{"field":"y","type":"quantitative","scale":{"domain":[1.013,2.167],"nice":false,"zero":false},"axis":null},"color":{"field":"col","type":"nominal","scale":{"domain":["red","green","blue","black","purple"],"range":["#ee1d23","#4cb848","#233f9a","#111111","#8b62c2"]},"legend":null}},"layer":[{"transform":[{"filter":"datum.k == 'ring'"}],"mark":{"type":"point","shape":"circle","size":6084,"filled":false,"strokeWidth":2.2,"opacity":1},"encoding":{"color":{"value":"#000"}}},{"transform":[{"filter":"datum.k == 'd'"}],"mark":{"type":"rule","strokeWidth":2,"strokeDash":[2,2]},"encoding":{"x2":{"datum":0},"y2":{"datum":-0.12}}},{"transform":[{"filter":"datum.k == 's'"}],"mark":{"type":"rule","strokeWidth":3.2},"encoding":{"x2":{"datum":0},"y2":{"datum":-0.12}}},{"transform":[{"filter":"datum.k == 's'"}],"mark":{"type":"point","shape":"circle","size":196,"filled":false,"strokeWidth":2.8,"opacity":1}}]},
 {"width":240,"height":45,"title":{"text":"40 Hz","offset":-1.3},
  "encoding":{"x":{"field":"t","type":"quantitative","scale":{"domain":[-12.5,37.5],"nice":false,"zero":false},"axis":{"values":[-10,0,10,20,30],"tickCount":10,"title":null,"labelOverlap":false}}},
  "layer":[
   {"data":{"name":"curves"},"transform":[{"filter":"datum.c == 'D40'"}],"mark":{"type":"line","interpolate":"natural","color":"#f4782a","strokeWidth":2.6,"clip":true},"encoding":{"y":{"field":"v","type":"quantitative","scale":{"domain":[-13.4,13.4],"nice":false,"zero":false},"axis":{"values":[-10,0,10],"tickCount":10,"labelOverlap":false,"title":null}}}},
   {"data":{"name":"curves"},"transform":[{"filter":"datum.c == 'D40'"}],"mark":{"type":"line","interpolate":"natural","color":"#2e2d8c","strokeWidth":1.9,"clip":true},"encoding":{"y":{"field":"v","type":"quantitative"}}},
   {"data":{"name":"vl"},"transform":[{"filter":"datum.c == 'D40' && datum.k == 'd'"}],"mark":{"type":"rule","strokeWidth":1.5,"strokeDash":[2,1.5]},"encoding":{"color":{"field":"col","type":"nominal","scale":{"domain":["red","green","blue","black","purple"],"range":["#ee1d23","#4cb848","#233f9a","#111111","#8b62c2"]},"legend":null}}},
   {"data":{"name":"vl"},"transform":[{"filter":"datum.c == 'D40' && datum.k == 's'"}],"mark":{"type":"rule","strokeWidth":2.4},"encoding":{"color":{"field":"col","type":"nominal","scale":{"domain":["red","green","blue","black","purple"],"range":["#ee1d23","#4cb848","#233f9a","#111111","#8b62c2"]},"legend":null}}}
  ]},

 {"width":90,"height":1,"data":{"values":[]},"mark":"point"},
 {"width":135,"height":1,"data":{"values":[]},"mark":"point"},
 {"width":240,"height":45,"title":{"text":"80 Hz","offset":-5.5},
  "encoding":{"x":{"field":"t","type":"quantitative","scale":{"domain":[-6.25,18.75],"nice":false,"zero":false},"axis":{"values":[-5,0,5,10,15],"tickCount":10,"labelOverlap":false,"title":"time (ms)","titleX":245,"titleY":35,"titleAlign":"right","titleBaseline":"alphabetic"}}},
  "layer":[
   {"data":{"name":"curves"},"transform":[{"filter":"datum.c == 'B80'"}],"mark":{"type":"line","interpolate":"natural","color":"#f4782a","strokeWidth":2.6,"clip":true},"encoding":{"y":{"field":"v","type":"quantitative","scale":{"domain":[-21,23],"nice":false,"zero":false},"axis":{"values":[-20,0,20],"tickCount":10,"labelOverlap":false,"title":null}}}},
   {"data":{"name":"curves"},"transform":[{"filter":"datum.c == 'B80'"}],"mark":{"type":"line","interpolate":"natural","color":"#2e2d8c","strokeWidth":1.9,"clip":true},"encoding":{"y":{"field":"v","type":"quantitative"}}},
   {"data":{"name":"vl"},"transform":[{"filter":"datum.c == 'B80' && datum.k == 'd'"}],"mark":{"type":"rule","strokeWidth":1.5,"strokeDash":[2,1.5]},"encoding":{"color":{"field":"col","type":"nominal","scale":{"domain":["red","green","blue","black","purple"],"range":["#ee1d23","#4cb848","#233f9a","#111111","#8b62c2"]},"legend":null}}},
   {"data":{"name":"vl"},"transform":[{"filter":"datum.c == 'B80' && datum.k == 's'"}],"mark":{"type":"rule","strokeWidth":2.4},"encoding":{"color":{"field":"col","type":"nominal","scale":{"domain":["red","green","blue","black","purple"],"range":["#ee1d23","#4cb848","#233f9a","#111111","#8b62c2"]},"legend":null}}}
  ]},
 {"width":111,"height":1,"data":{"values":[]},"mark":"point"},
 {"width":139,"height":1,"data":{"values":[]},"mark":"point"},
 {"width":240,"height":45,"title":{"text":"80 Hz","offset":-4.5},
  "encoding":{"x":{"field":"t","type":"quantitative","scale":{"domain":[-6.25,18.75],"nice":false,"zero":false},"axis":{"values":[-5,0,5,10,15],"tickCount":10,"labelOverlap":false,"title":"time (ms)","titleX":242,"titleY":35,"titleAlign":"right","titleBaseline":"alphabetic"}}},
  "layer":[
   {"data":{"name":"curves"},"transform":[{"filter":"datum.c == 'D80'"}],"mark":{"type":"line","interpolate":"natural","color":"#f4782a","strokeWidth":2.6,"clip":true},"encoding":{"y":{"field":"v","type":"quantitative","scale":{"domain":[-11,12],"nice":false,"zero":false},"axis":{"values":[-10,0,10],"tickCount":10,"labelOverlap":false,"title":null}}}},
   {"data":{"name":"curves"},"transform":[{"filter":"datum.c == 'D80'"}],"mark":{"type":"line","interpolate":"natural","color":"#1c1c55","strokeWidth":1.9,"clip":true},"encoding":{"y":{"field":"v","type":"quantitative"}}},
   {"data":{"name":"vl"},"transform":[{"filter":"datum.c == 'D80' && datum.k == 'd'"}],"mark":{"type":"rule","strokeWidth":1.5,"strokeDash":[2,1.5]},"encoding":{"color":{"field":"col","type":"nominal","scale":{"domain":["red","green","blue","black","purple"],"range":["#ee1d23","#4cb848","#233f9a","#111111","#8b62c2"]},"legend":null}}},
   {"data":{"name":"vl"},"transform":[{"filter":"datum.c == 'D80' && datum.k == 's'"}],"mark":{"type":"rule","strokeWidth":2.4},"encoding":{"color":{"field":"col","type":"nominal","scale":{"domain":["red","green","blue","black","purple"],"range":["#ee1d23","#4cb848","#233f9a","#111111","#8b62c2"]},"legend":null}}}
  ]}
]
}
